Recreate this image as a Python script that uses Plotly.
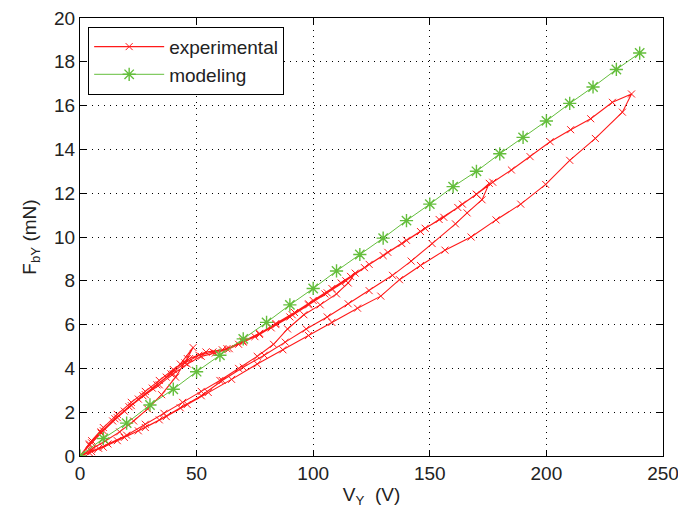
import plotly.graph_objects as go

# ---- data ----
# experimental hysteresis path: ascending / descending branches, in order
a1_v = [0, 4, 9, 14, 19, 25, 31, 37, 43, 48.5]
a1_f = [0, 0.5, 1.05, 1.6, 2.05, 2.6, 3.1, 3.6, 4.2, 4.95]
d1_v = [46, 41, 35, 29, 23, 17, 11, 5, 0]
d1_f = [4.45, 3.6, 2.8, 2.15, 1.6, 1.1, 0.7, 0.3, 0]

a2_v = [5, 10, 16, 22, 28, 34, 40, 46, 52, 58, 64, 70, 77, 84, 91, 98, 105, 112, 118]
a2_f = [0.6, 1.15, 1.75, 2.3, 2.8, 3.25, 3.75, 4.2, 4.55, 4.7, 4.9, 5.2, 5.55, 6.0, 6.45, 6.95, 7.4, 7.9, 8.35]
d2_v = [115, 110, 103, 96, 89, 83, 76, 68, 60, 52, 44, 36, 28, 20, 12, 5, 0]
d2_f = [7.9, 7.4, 6.9, 6.45, 5.8, 5.1, 4.55, 4.0, 3.45, 2.95, 2.45, 1.95, 1.45, 0.95, 0.55, 0.2, 0]

a3_v = [4, 9, 15, 21, 27, 33, 39, 45, 51, 57, 63, 70, 77, 84, 92, 100, 108, 116, 124, 132, 140, 148, 156, 164, 170, 175.5]
a3_f = [0.55, 1.1, 1.7, 2.25, 2.75, 3.25, 3.75, 4.25, 4.6, 4.75, 4.9, 5.25, 5.6, 6.05, 6.55, 7.1, 7.65, 8.2, 8.75, 9.3, 9.85, 10.4, 10.9, 11.5, 11.95, 12.45]
d3_v = [172.4, 166, 161, 151, 142, 134, 124, 115, 106, 97, 88, 79, 70, 61, 52, 43, 34, 25, 16, 8, 0]
d3_f = [11.7, 11.1, 10.6, 9.7, 8.9, 8.25, 7.55, 6.95, 6.35, 5.8, 5.2, 4.6, 4.05, 3.45, 2.75, 2.2, 1.65, 1.15, 0.7, 0.35, 0]

a4_v = [5, 10, 16, 22, 28, 34, 40, 47, 54, 61, 68, 75, 82, 90, 98, 106, 114, 122, 130, 138, 146, 154, 162, 170, 177, 185, 193, 201.6, 210.4, 219, 228.3, 236.5]
a4_f = [0.7, 1.3, 1.9, 2.45, 2.95, 3.45, 3.95, 4.45, 4.75, 4.85, 5.1, 5.45, 5.85, 6.35, 6.9, 7.45, 8.0, 8.6, 9.15, 9.7, 10.25, 10.8, 11.35, 11.95, 12.5, 13.06, 13.67, 14.35, 14.9, 15.4, 16.15, 16.53]
d4_v = [232.6, 221, 210, 199.7, 189, 178.4, 167.7, 156.5, 146, 137, 129, 119, 108, 98, 87, 76, 65, 55, 46, 37, 28, 19, 10, 4, 0]
d4_f = [15.7, 14.5, 13.5, 12.4, 11.5, 10.78, 10.0, 9.4, 8.7, 8.05, 7.3, 6.75, 6.1, 5.5, 4.85, 4.2, 3.5, 2.9, 2.35, 1.8, 1.3, 0.85, 0.4, 0.15, 0]

exp_v = a1_v + d1_v + a2_v + d2_v + a3_v + d3_v + a4_v + d4_v
exp_f = a1_f + d1_f + a2_f + d2_f + a3_f + d3_f + a4_f + d4_f

mod_v = [0, 10, 20, 30, 40, 50, 60, 70, 80, 90, 100, 110, 120, 130, 140, 150, 160, 170, 180, 190, 200, 210, 220, 230, 240]
mod_f = [0, 0.8, 1.5, 2.33, 3.05, 3.85, 4.6, 5.35, 6.1, 6.9, 7.65, 8.45, 9.2, 9.95, 10.75, 11.5, 12.3, 13.0, 13.8, 14.55, 15.3, 16.1, 16.85, 17.65, 18.4]

x_ticks = [0, 50, 100, 150, 200, 250]
y_ticks = [0, 2, 4, 6, 8, 10, 12, 14, 16, 18, 20]

RED = "#ff1a1a"
GREEN = "rgb(100,190,60)"
FONT = "Liberation Sans, Arial, sans-serif"

fig = go.Figure()
fig.add_trace(go.Scatter(
    x=exp_v, y=exp_f, name="experimental", mode="lines+markers",
    line=dict(color=RED, width=1.1),
    marker=dict(symbol="x-thin-open", size=7, color=RED, line=dict(color=RED, width=1)),
))
fig.add_trace(go.Scatter(
    x=mod_v, y=mod_f, name="modeling", mode="lines+markers",
    line=dict(color=GREEN, width=1),
    marker=dict(symbol="asterisk-open", size=11, color=GREEN, line=dict(color=GREEN, width=1.4)),
))

axis_common = dict(
    showline=True, linecolor="black", linewidth=1, mirror="ticks",
    ticks="inside", ticklen=6, tickcolor="black",
    showgrid=True, gridcolor="black", gridwidth=1, griddash="1px,5px",
    zeroline=False, automargin=False, ticklabeloverflow="allow",
    tickfont=dict(family=FONT, size=19, color="#222"),
)

fig.update_xaxes(range=[0, 250], tickvals=x_ticks,
                 title=dict(text="V<sub>Y</sub>&nbsp;&nbsp;(V)", font=dict(family=FONT, size=19, color="#222"), standoff=4),
                 **axis_common)
fig.update_yaxes(range=[0, 20], tickvals=y_ticks,
                 title=dict(text="F<sub>bY</sub> (mN)", font=dict(family=FONT, size=19, color="#222"), standoff=12),
                 **axis_common)

fig.update_layout(
    width=678, height=516,
    margin=dict(l=80, r=15, t=18, b=60),
    paper_bgcolor="white", plot_bgcolor="white",
    showlegend=True,
    legend=dict(x=0.014, y=0.98, xanchor="left", yanchor="top",
                bgcolor="white", bordercolor="black", borderwidth=1,
                font=dict(family=FONT, size=19, color="#222"),
                itemwidth=70, tracegroupgap=2),
)

# remove the default page margin so the figure fills the window exactly
fig.write_html("out.html", config={"displayModeBar": False},
               post_script="document.body.style.margin='0px';")
